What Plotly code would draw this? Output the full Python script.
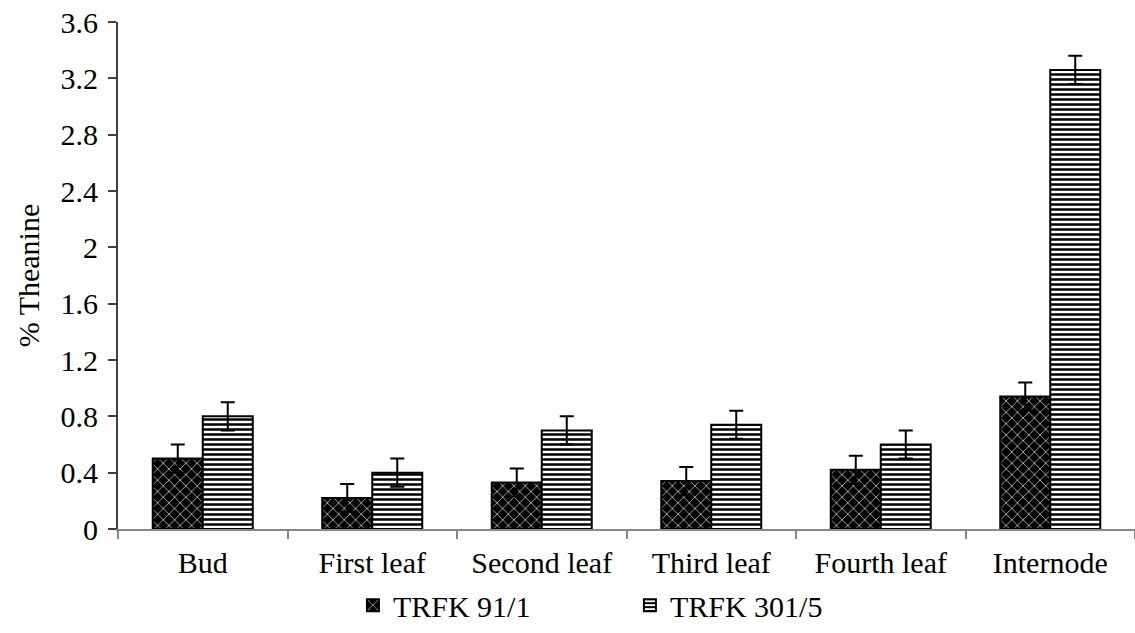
import plotly.graph_objects as go

categories = ["Bud", "First leaf", "Second leaf", "Third leaf", "Fourth leaf", "Internode"]
trfk_91_1 = [0.50, 0.22, 0.33, 0.34, 0.42, 0.94]
trfk_91_1_err = [0.10, 0.10, 0.10, 0.10, 0.10, 0.10]
trfk_301_5 = [0.80, 0.40, 0.70, 0.74, 0.60, 3.26]
trfk_301_5_err = [0.10, 0.10, 0.10, 0.10, 0.10, 0.10]
y_ticks = [0, 0.4, 0.8, 1.2, 1.6, 2, 2.4, 2.8, 3.2, 3.6]

FONT = "Liberation Serif"

fig = go.Figure()
fig.add_trace(go.Bar(
    name="TRFK 91/1", x=categories, y=trfk_91_1,
    error_y=dict(type="data", array=trfk_91_1_err, color="black", thickness=2, width=7),
    marker=dict(color="black", line=dict(color="black", width=2),
                pattern=dict(shape="x", bgcolor="black", fgcolor="white",
                             size=8, solidity=0.15, fillmode="replace")),
))
fig.add_trace(go.Bar(
    name="TRFK 301/5", x=categories, y=trfk_301_5,
    error_y=dict(type="data", array=trfk_301_5_err, color="black", thickness=2, width=7),
    marker=dict(color="white", line=dict(color="black", width=2),
                pattern=dict(shape="-", bgcolor="white", fgcolor="black",
                             size=5, solidity=0.5, fillmode="replace")),
))

fig.update_layout(
    width=1135, height=633,
    margin=dict(l=118, r=0, t=22, b=104),
    paper_bgcolor="white", plot_bgcolor="white",
    font=dict(family=FONT, size=30, color="black"),
    barmode="group", bargap=0.41, bargroupgap=0,
    showlegend=True,
    legend=dict(orientation="h", xref="container", yref="container",
                x=0.555, y=0.044, xanchor="center", yanchor="middle",
                font=dict(family=FONT, size=30), entrywidth=232,
                itemwidth=30, tracegroupgap=0),
)
fig.update_xaxes(
    showline=True, linecolor="#888888", linewidth=2,
    ticks="outside", tickson="boundaries", ticklen=8, tickcolor="#888888", tickwidth=2,
    tickfont=dict(family=FONT, size=30), ticklabelstandoff=6,
    showgrid=False, zeroline=False,
)
fig.update_yaxes(
    range=[0, 3.6], tickvals=y_ticks, ticktext=[f"{v:g}" for v in y_ticks],
    showline=True, linecolor="#404040", linewidth=2,
    ticks="outside", ticklen=8, tickcolor="#404040", tickwidth=2,
    tickfont=dict(family=FONT, size=30), ticklabelstandoff=4,
    showgrid=False, zeroline=False,
    title=dict(text="% Theanine", font=dict(family=FONT, size=30), standoff=12),
)

fig.write_html("out.html")
